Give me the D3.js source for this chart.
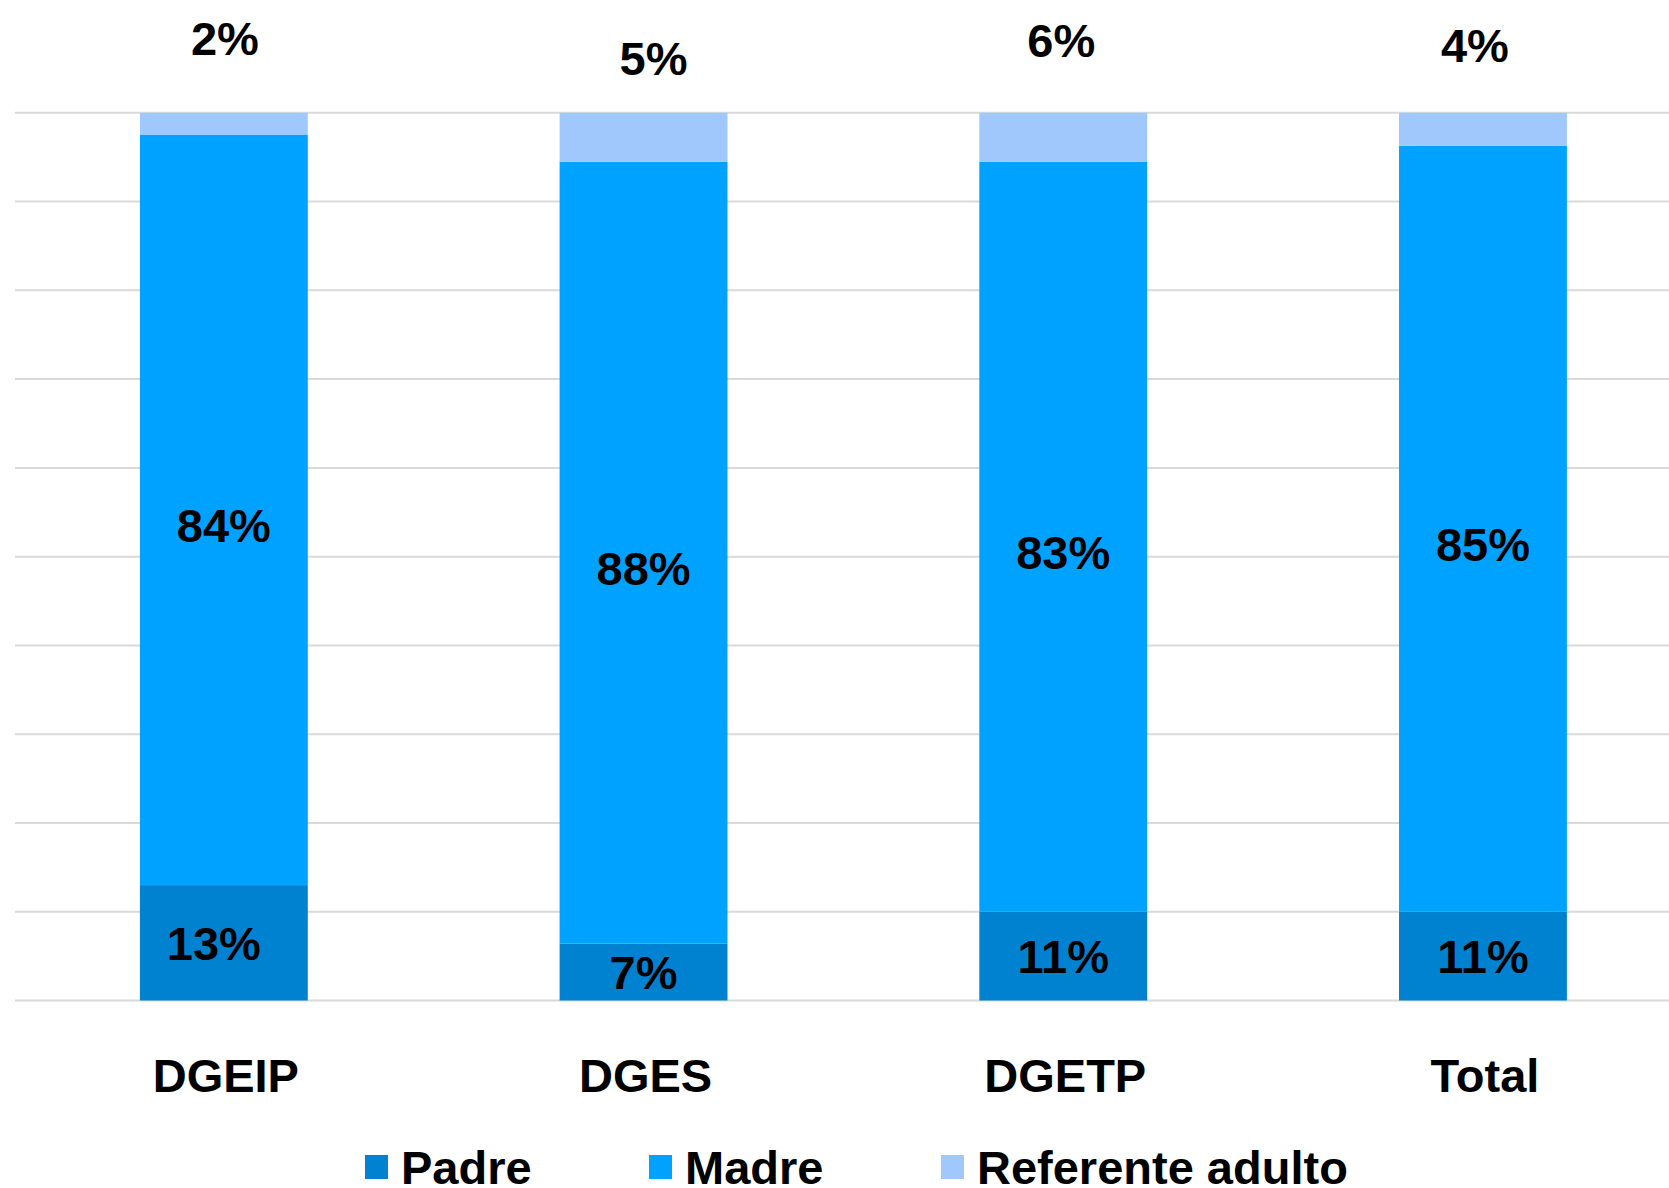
<!DOCTYPE html>
<html>
<head>
<meta charset="utf-8">
<script src="https://cdn.jsdelivr.net/npm/d3@7"></script>
<style>
  html, body { margin: 0; padding: 0; background: #ffffff; }
  svg { display: block; }
  text { font-family: "Liberation Sans", Arial, sans-serif; font-weight: bold; fill: #000; }
</style>
</head>
<body>
<script>
// ---- data ----
const categories = ["DGEIP", "DGES", "DGETP", "Total"];
const seriesNames = ["Padre", "Madre", "Referente adulto"];
const padre = [13.0, 6.4, 10.0, 10.0];
const madre = [84.5, 88.1, 84.5, 86.3];
const referente = [2.5, 5.5, 5.5, 3.7];
const padreLabels = ["13%", "7%", "11%", "11%"];
const madreLabels = ["84%", "88%", "83%", "85%"];
const referenteLabels = ["2%", "5%", "6%", "4%"];
const yTicks = [0, 10, 20, 30, 40, 50, 60, 70, 80, 90, 100];

// ---- layout ----
const W = 1669, H = 1188;
const colors = ["#0082D0", "#00A2FF", "#A1C8FD"];
const fontSize = 47;
const refLabelLayout = [{dx: 1, y: 55}, {dx: 10, y: 75}, {dx: -2, y: 57}, {dx: -8, y: 62}];
const padreLabelDx = [-10, 0, 0, 0];
const legendX = [365, 649, 941];

const svg = d3.select("body").append("svg").attr("width", W).attr("height", H);

const x = d3.scaleBand().domain(categories).range([14, 14 + 4 * 419.7])
  .paddingInner(0.6).paddingOuter(0.3);
const y = d3.scaleLinear().domain([0, 100]).range([1000.5, 112.8]);

// gridlines
svg.append("g").selectAll("line").data(yTicks).join("line")
  .attr("x1", 15).attr("x2", W)
  .attr("y1", d => y(d)).attr("y2", d => y(d))
  .attr("stroke", "#d9d9d9").attr("stroke-width", 2);

// stack
const rows = categories.map((c, i) => ({cat: c, Padre: padre[i], Madre: madre[i], "Referente adulto": referente[i]}));
const stack = d3.stack().keys(seriesNames)(rows);

const gBars = svg.append("g");
stack.forEach((layer, li) => {
  gBars.selectAll(null).data(layer).join("rect")
    .attr("x", d => x(d.data.cat))
    .attr("width", x.bandwidth())
    .attr("y", d => y(d[1]))
    .attr("height", d => y(d[0]) - y(d[1]))
    .attr("fill", colors[li]);
});

// padre labels
const gL = svg.append("g").attr("font-size", fontSize).attr("text-anchor", "middle");
gL.selectAll(null).data(stack[0]).join("text")
  .attr("x", (d, i) => x(d.data.cat) + x.bandwidth() / 2 + padreLabelDx[i])
  .attr("y", d => (y(d[0]) + y(d[1])) / 2)
  .attr("dy", "0.36em")
  .text((d, i) => padreLabels[i]);

// madre labels
gL.selectAll(null).data(stack[1]).join("text")
  .attr("x", d => x(d.data.cat) + x.bandwidth() / 2)
  .attr("y", d => (y(d[0]) + y(d[1])) / 2 + 15)
  .attr("dy", "0.36em")
  .text((d, i) => madreLabels[i]);

// referente labels (above chart)
gL.selectAll(null).data(categories).join("text")
  .attr("x", (d, i) => x(d) + x.bandwidth() / 2 + refLabelLayout[i].dx)
  .attr("y", (d, i) => refLabelLayout[i].y)
  .text((d, i) => referenteLabels[i]);

// category axis labels
gL.selectAll(null).data(categories).join("text")
  .attr("x", d => x(d) + x.bandwidth() / 2 + 2)
  .attr("y", 1092)
  .text(d => d);

// legend
const gLeg = svg.append("g");
seriesNames.forEach((name, i) => {
  gLeg.append("rect").attr("x", legendX[i]).attr("y", 1155).attr("width", 23).attr("height", 24).attr("fill", colors[i]);
  gLeg.append("text").attr("x", legendX[i] + 36).attr("y", 1184).attr("font-size", fontSize).text(name);
});
</script>
</body>
</html>
